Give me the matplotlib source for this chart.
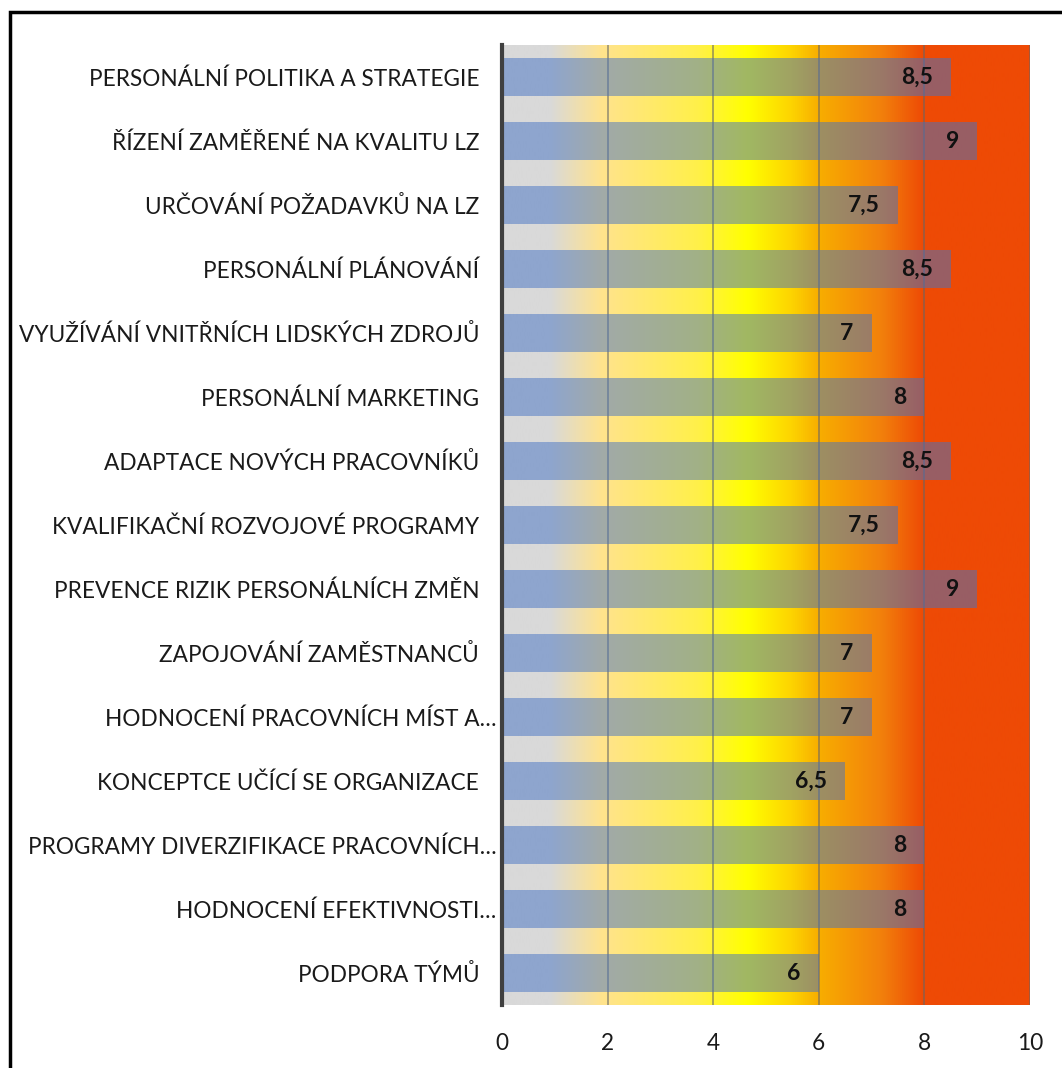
import matplotlib
matplotlib.use("Agg")
import matplotlib.pyplot as plt
import numpy as np
from matplotlib.colors import LinearSegmentedColormap
from matplotlib.patches import Rectangle

plt.rcParams['font.family'] = ['Lato', 'DejaVu Sans']

categories = [
    "PERSONÁLNÍ POLITIKA A STRATEGIE",
    "ŘÍZENÍ ZAMĚŘENÉ NA KVALITU LZ",
    "URČOVÁNÍ POŽADAVKŮ NA LZ",
    "PERSONÁLNÍ PLÁNOVÁNÍ",
    "VYUŽÍVÁNÍ VNITŘNÍCH LIDSKÝCH ZDROJŮ",
    "PERSONÁLNÍ MARKETING",
    "ADAPTACE NOVÝCH PRACOVNÍKŮ",
    "KVALIFIKAČNÍ ROZVOJOVÉ PROGRAMY",
    "PREVENCE RIZIK PERSONÁLNÍCH ZMĚN",
    "ZAPOJOVÁNÍ ZAMĚSTNANCŮ",
    "HODNOCENÍ PRACOVNÍCH MÍST A…",
    "KONCEPTCE UČÍCÍ SE ORGANIZACE",
    "PROGRAMY DIVERZIFIKACE PRACOVNÍCH…",
    "HODNOCENÍ EFEKTIVNOSTI…",
    "PODPORA TÝMŮ",
]
truncated = [False, False, False, False, False, False, False, False,
             False, False, True, False, True, True, False]
scores = [8.5, 9, 7.5, 8.5, 7, 8, 8.5, 7.5, 9, 7, 7, 6.5, 8, 8, 6]
x_ticks = [0, 2, 4, 6, 8, 10]

W, H = 1062, 1068
fig = plt.figure(figsize=(W / 100, H / 100), dpi=100)
fig.patch.set_facecolor("white")
ax = fig.add_axes([502 / W, 1 - 1005 / H, (1030 - 502) / W, (1005 - 45) / H])

n = len(categories)
ypos = np.arange(n)

# background colour scale from grey through yellow to red
stops = [
    (0.00, "#D9D9D9"),
    (0.09, "#D9D9D9"),
    (0.185, "#FFE38E"),
    (0.37, "#FFF04A"),
    (0.465, "#FFFF00"),
    (0.55, "#FDD300"),
    (0.60, "#F8AE00"),
    (0.72, "#F2800C"),
    (0.80, "#EE4A05"),
    (1.00, "#EE4A05"),
]
cmap = LinearSegmentedColormap.from_list("bg", stops)
grad = np.linspace(0, 1, 512).reshape(1, -1)
ax.imshow(grad, cmap=cmap, aspect="auto", extent=[0, 10, n - 0.5, -0.5],
          interpolation="bilinear", zorder=0)

for t in x_ticks[1:]:
    ax.axvline(t, color="#666666", lw=1.3, alpha=0.6, zorder=1)

ax.barh(ypos, scores, height=0.6, color="#4472C4", alpha=0.5,
        edgecolor="none", zorder=2)

for y, v in zip(ypos, scores):
    lbl = f"{v:g}".replace(".", ",")
    ax.annotate(lbl, xy=(v, y), xytext=(-13, 0), textcoords="offset points",
                ha="right", va="center", fontsize=16.5, fontweight="bold",
                color="#111111", zorder=3)

ax.set_xlim(0, 10)
ax.set_ylim(n - 0.5, -0.5)
ax.set_xticks(x_ticks)
ax.set_xticklabels([str(t) for t in x_ticks])
ax.set_yticks(ypos)
ax.set_yticklabels([c if tr else c + "   " for c, tr in zip(categories, truncated)])
ax.tick_params(axis="y", length=0, pad=4, labelsize=16.3, labelcolor="#1A1A1A")
ax.tick_params(axis="x", length=0, pad=20, labelsize=16.3, labelcolor="#1A1A1A")

for s in ["top", "right", "bottom"]:
    ax.spines[s].set_visible(False)
ax.spines["left"].set_color("#404040")
ax.spines["left"].set_linewidth(3)
ax.spines["left"].set_zorder(4)

# outer frame of the figure, open at right and bottom edges
fig.patches.append(Rectangle((10 / W, -0.1), 2.0, 1 - 12 / H + 0.1,
                             transform=fig.transFigure, fill=False,
                             edgecolor="black", lw=2.5, zorder=10))

fig.savefig("out.png", dpi=100)
